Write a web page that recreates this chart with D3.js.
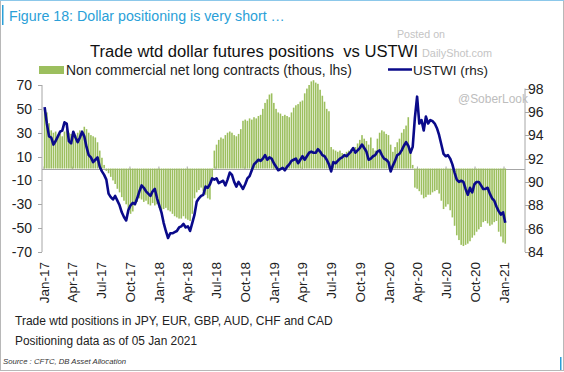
<!DOCTYPE html>
<html><head><meta charset="utf-8">
<script src="https://cdn.jsdelivr.net/npm/d3@7"></script>
<style>body{margin:0;background:#fff}svg{display:block}text{font-family:"Liberation Sans",Arial,sans-serif;white-space:pre}</style>
</head><body><svg id="c" width="564" height="372"></svg>
<script>
// Weekly CFTC dates: first 3 Jan 2017, last 5 Jan 2021
const startDate = new Date(2017, 0, 3);
const nWeeks = 210;
// Non commercial net long contracts (thous, lhs)
const positions = [50,47,38,32,30,31,28,29,27,31,33,30,29,31,28,30,32,31,35,33,30,28,27,26,22,15,9,3,-2,-4,
-7,-10,-13,-17,-20,-24,-27,-30,-34,-38,-36,-31,-28,-25,-26,-28,-27,-30,-31,-29,-31,-30,-33,-35,-34,-33,-35,-36,-38,-40,
-41,-42,-42,-40,-42,-43,-44,-38,-25,-20,-18,-16,-19,-22,-25,-26,-8,15,20,24,26,25,28,30,31,30,28,27,29,33,
40,41,40,42,41,43,42,44,45,50,55,58,62,63,55,50,47,46,44,45,44,43,47,51,53,54,56,57,63,67,
70,73,74,72,71,66,61,56,50,48,18,16,15,14,15,13,12,14,15,16,14,18,21,24,28,25,23,20,26,17,
15,25,30,32,31,29,28,20,14,18,22,25,30,33,36,43,15,3,-16,-17,-19,-22,-25,-24,-22,-22,-20,-19,-18,-21,
-27,-34,-32,-30,-35,-41,-48,-56,-60,-64,-65,-64,-63,-61,-58,-56,-53,-51,-49,-45,-44,-46,-48,-47,-45,-44,-53,-57,-62,-63];
// USTWI (rhs)
const ustwi = [96.4,95.0,93.9,93.8,93.2,93.5,93.9,94.3,94.4,95.1,95.0,93.5,93.3,94.3,93.8,93.4,93.8,94.3,93.9,93.0,
92.3,92.1,91.7,91.9,92.1,91.3,90.9,90.6,90.2,89.0,88.7,88.5,88.8,88.4,88.0,87.4,87.0,86.7,87.6,88.0,
88.2,88.1,88.6,89.2,89.7,89.5,89.2,89.0,88.8,89.2,89.4,88.6,88.0,87.4,86.5,85.8,85.2,85.6,85.6,85.7,
85.8,86.1,86.2,86.4,86.1,86.2,85.8,86.5,87.2,88.3,88.6,88.8,88.9,89.6,89.5,89.8,90.3,90.2,90.3,89.9,
90.0,90.1,89.7,90.2,90.8,90.6,90.0,89.6,90.0,89.7,89.4,89.8,90.3,90.5,91.0,91.5,91.7,91.9,91.8,92.0,
92.3,91.9,92.1,92.0,91.6,91.3,91.0,91.1,91.2,91.0,91.3,91.5,91.8,91.9,92.0,91.6,91.9,92.2,91.9,92.2,
92.5,92.6,92.5,92.5,92.8,92.6,92.3,92.2,91.9,91.5,90.9,91.7,91.6,91.8,92.0,92.1,92.3,92.2,92.4,92.6,
92.9,92.5,92.7,92.9,93.2,92.9,92.6,91.9,92.0,92.2,92.3,92.6,92.7,92.3,92.0,91.9,91.7,90.9,91.4,91.8,
92.3,92.4,92.7,93.1,93.4,93.1,92.5,93.0,95.5,97.3,95.0,95.3,94.4,95.6,95.0,95.3,95.2,95.0,94.6,94.0,
93.2,92.4,92.2,92.3,92.0,91.5,90.8,90.2,90.0,90.1,90.0,89.4,88.9,89.5,89.1,89.8,90.0,90.0,89.7,89.4,
89.4,89.5,89.0,88.6,88.4,87.9,87.5,87.2,87.4,86.5];
const leftTicks = [70,50,30,10,-10,-30,-50,-70];
const rightTicks = [98,96,94,92,90,88,86,84];
const xTickLabels = ["Jan-17","Apr-17","Jul-17","Oct-17","Jan-18","Apr-18","Jul-18","Oct-18","Jan-19","Apr-19","Jul-19","Oct-19","Jan-20","Apr-20","Jul-20","Oct-20","Jan-21"];

const parseTick = d3.timeParse("%b-%y");
const dates = d3.range(nWeeks).map(i => d3.timeDay.offset(startDate, 7 * i));

const svg = d3.select("#c");
const x = d3.scaleTime().domain([new Date(2017,0,1), new Date(2021,0,1)]).range([44, 504]);
const yL = d3.scaleLinear().domain([-70, 70]).range([252, 85]);
const yR = d3.scaleLinear().domain([84, 98]).range([252, 88.5]);

function fit(sel, w) {
  const n = sel.node();
  const fs = parseFloat(sel.attr("font-size"));
  const cur = n.getComputedTextLength();
  sel.attr("font-size", (fs * w / cur).toFixed(2));
  return sel;
}

// frame
svg.append("rect").attr("x",0.5).attr("y",0.5).attr("width",563).attr("height",370).attr("fill","none").attr("stroke","#b8b8b8");
svg.append("line").attr("x1",0).attr("x2",564).attr("y1",0.5).attr("y2",0.5).attr("stroke","#8cc8ea");
svg.append("rect").attr("x",2).attr("y",5).attr("width",1.5).attr("height",20).attr("fill","#2a9fd8");
svg.append("rect").attr("x",560).attr("y",357).attr("width",1.5).attr("height",13).attr("fill","#2a9fd8");

// header
fit(svg.append("text").attr("x",9).attr("y",21).attr("font-size",16).attr("fill","#2a9fd8")
  .text("Figure 18: Dollar positioning is very short \u2026"), 276);

// watermarks
fit(svg.append("text").attr("x",397).attr("y",38).attr("font-size",12).attr("fill","#c4c4c4").text("Posted on"), 48);
fit(svg.append("text").attr("x",422).attr("y",57).attr("font-size",12).attr("fill","#c4c4c4").text("DailyShot.com"), 70);

// title
fit(svg.append("text").attr("x",90).attr("y",57).attr("font-size",19).attr("fill","#111")
  .text("Trade wtd dollar futures positions  vs USTWI"), 328);

// legend
svg.append("rect").attr("x",39).attr("y",66).attr("width",25).attr("height",8).attr("fill","#9cbf5e");
fit(svg.append("text").attr("x",66).attr("y",75).attr("font-size",15).attr("fill","#222")
  .text("Non commercial net long contracts (thous, lhs)"), 286);
svg.append("line").attr("x1",388).attr("x2",412).attr("y1",69.5).attr("y2",69.5).attr("stroke","#0a0a8a").attr("stroke-width",2.5);
fit(svg.append("text").attr("x",413).attr("y",75).attr("font-size",15).attr("fill","#222").text("USTWI (rhs)"), 75);

// axes lines
const axisCol = "#a6a6a6";
svg.append("line").attr("x1",42).attr("x2",42).attr("y1",yL(70)).attr("y2",yL(-70)).attr("stroke",axisCol);
svg.append("line").attr("x1",525).attr("x2",525).attr("y1",yR(98)).attr("y2",yR(84)).attr("stroke",axisCol);
svg.selectAll(".lt").data(leftTicks).join("line").attr("x1",38).attr("x2",42)
  .attr("y1",d=>Math.round(yL(d))+0.5).attr("y2",d=>Math.round(yL(d))+0.5).attr("stroke",axisCol);
svg.selectAll(".rt").data(rightTicks).join("line").attr("x1",525).attr("x2",529)
  .attr("y1",d=>Math.round(yR(d))+0.5).attr("y2",d=>Math.round(yR(d))+0.5).attr("stroke",axisCol);
svg.selectAll(".ll").data(leftTicks).join("text").attr("x",32).attr("y",d=>yL(d)).attr("dy","0.36em")
  .attr("text-anchor","end").attr("font-size",14).attr("fill","#222").text(d=>d);
svg.selectAll(".rl").data(rightTicks).join("text").attr("x",528).attr("y",d=>yR(d)).attr("dy","0.36em")
  .attr("font-size",14).attr("fill","#222").text(d=>d);

// zero line + quarterly ticks
const y0 = Math.round(yL(0)) + 0.5;
svg.append("line").attr("x1",42).attr("x2",525).attr("y1",y0).attr("y2",y0).attr("stroke",axisCol);
svg.selectAll(".qt").data(xTickLabels).join("line")
  .attr("x1",d=>x(parseTick(d))).attr("x2",d=>x(parseTick(d))).attr("y1",y0).attr("y2",y0-3).attr("stroke",axisCol);

// bars
svg.append("g").selectAll("rect").data(positions).join("rect")
  .attr("x",(d,i)=>x(dates[i]) - 0.8).attr("width",1.6)
  .attr("y",d=>Math.min(yL(d), yL(0))).attr("height",d=>Math.abs(yL(d)-yL(0)))
  .attr("fill","#9cbf5e");

// line
const line = d3.line().x((d,i)=>x(dates[i])).y(d=>yR(d));
svg.append("path").datum(ustwi).attr("d",line).attr("fill","none").attr("stroke","#0a0a8a")
  .attr("stroke-width",2.6).attr("stroke-linejoin","round");

// watermark on plot
fit(svg.append("text").attr("x",458).attr("y",103).attr("font-size",14).attr("fill","#bdbdbd").text("@SoberLook"), 70);

// x labels
svg.selectAll(".xl").data(xTickLabels).join("text")
  .attr("transform",d=>`translate(${x(parseTick(d))},262) rotate(-90)`)
  .attr("dy","0.36em").attr("text-anchor","end").attr("font-size",13.5).attr("fill","#222").text(d=>d);

// notes
fit(svg.append("text").attr("x",15).attr("y",325).attr("font-size",13).attr("fill","#222")
  .text("Trade wtd positions in JPY, EUR, GBP, AUD, CHF and CAD"), 318);
fit(svg.append("text").attr("x",15).attr("y",345).attr("font-size",13).attr("fill","#222")
  .text("Positioning data as of 05 Jan 2021"), 182);
fit(svg.append("text").attr("x",3).attr("y",364).attr("font-size",9).attr("font-style","italic").attr("fill","#333")
  .text("Source : CFTC, DB Asset Allocation"), 123);
</script></body></html>
